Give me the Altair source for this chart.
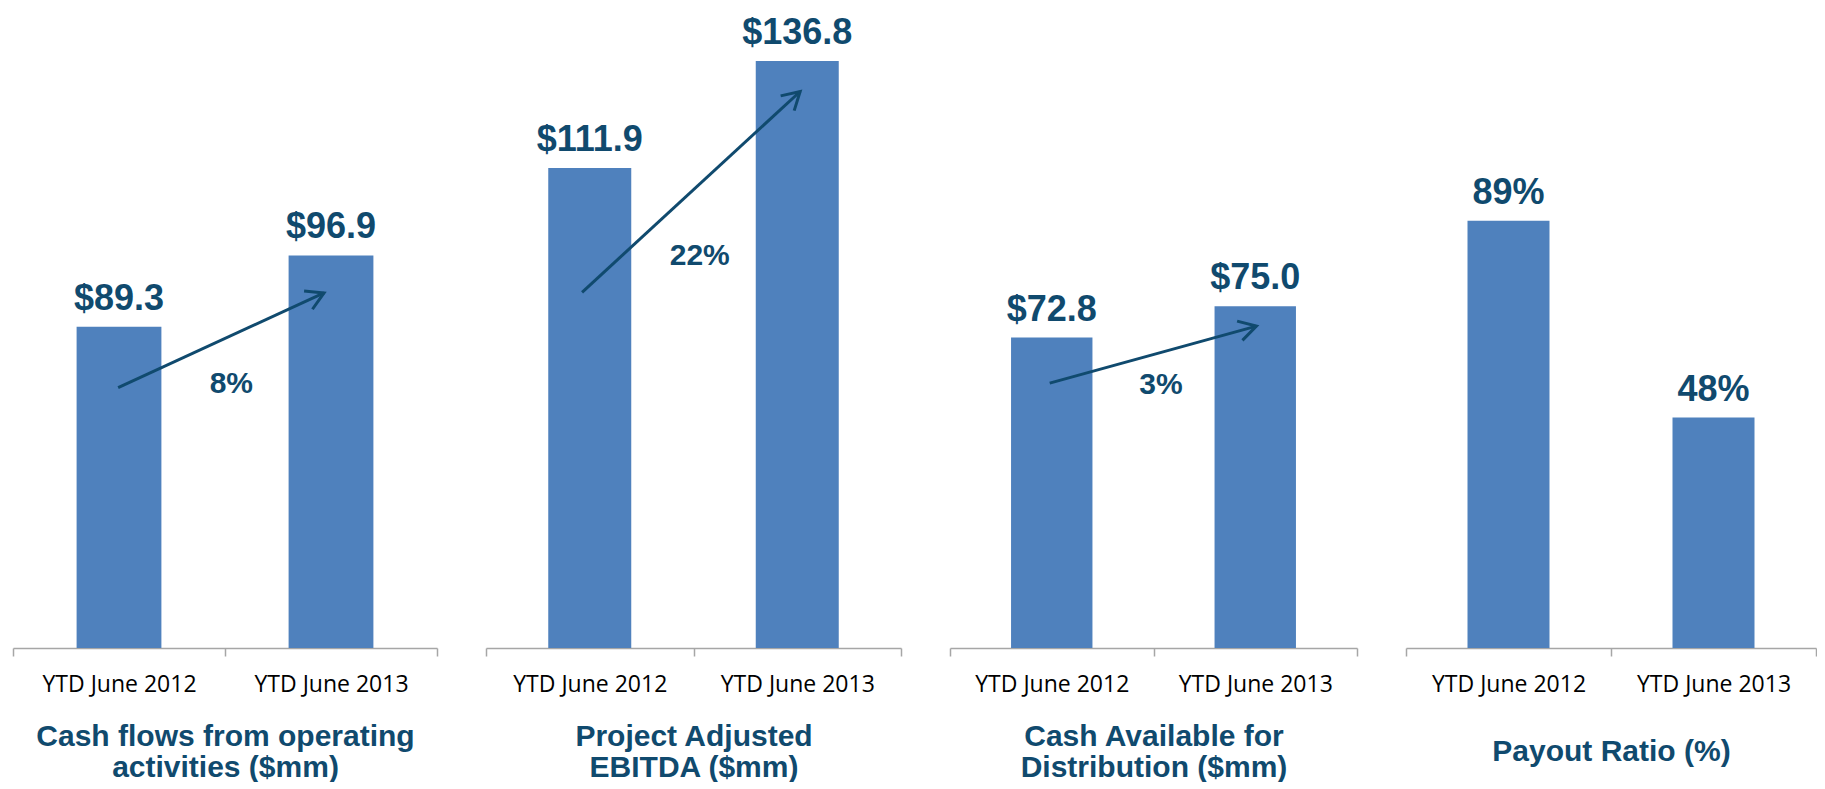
import math
import altair as alt
import pandas as pd

# ---------------- data ----------------
periods = ["YTD June 2012", "YTD June 2013"]
titles = [
    ["Cash flows from operating", "activities ($mm)"],
    ["Project Adjusted", "EBITDA ($mm)"],
    ["Cash Available for", "Distribution ($mm)"],
    ["Payout Ratio (%)"],
]
values = [[89.3, 96.9], [111.9, 136.8], [72.8, 75.0], [89, 48]]
value_labels = [["$89.3", "$96.9"], ["$111.9", "$136.8"], ["$72.8", "$75.0"], ["89%", "48%"]]
growth_labels = ["8%", "22%", "3%"]

# value-axis range of each panel (axis start / end)
axis_min = [55, 0, 51, 0]
axis_max = [123.1, 148.7, 95.8, 132.9]

# growth arrows: positions in category units (0..2) and value units
arrow_x0 = [0.496, 0.463, 0.490]
arrow_x1 = [1.467, 1.514, 1.506]
arrow_y0 = [82.8, 82.9, 69.6]
arrow_y1 = [92.9, 129.7, 73.6]
growth_x = [1.03, 1.03, 1.037]
growth_y = [83.2, 91.4, 69.5]

# ---------------- style ----------------
BAR = "#4F81BD"
DARK = "#104A6E"
AXIS_GRAY = "#A6A6A6"
BOLD_FONT = "Liberation Sans"
LABEL_FONT = "Open Sans"
WIDTHS = [424, 415, 407, 410]
H = 638
HEAD_PATH = "M-0.866,-0.5L0,0L-0.866,0.5"


def band_scale():
    return alt.Scale(paddingInner=0, paddingOuter=0)


def panel(i):
    w = WIDTHS[i]
    yscale = alt.Scale(domain=[axis_min[i], axis_max[i]], nice=False, zero=False)
    df = pd.DataFrame({"period": periods, "value": values[i], "label": value_labels[i]})
    base = alt.Chart(df)

    axis = alt.Axis(
        title=titles[i],
        titleFont=BOLD_FONT,
        titleFontSize=30,
        titleFontWeight="bold",
        titleColor=DARK,
        titleLineHeight=31,
        titlePadding=25 if i < 3 else 40,
        labelFont=LABEL_FONT,
        labelFontSize=23,
        labelColor="#000000",
        labelPadding=17,
        labelAngle=0,
        domainColor=AXIS_GRAY,
        domainWidth=1.5,
        tickColor=AXIS_GRAY,
        tickWidth=1.5,
        tickSize=8,
        tickBand="extent",
        grid=False,
    )

    bars = base.mark_bar(color=BAR, width=alt.RelativeBandSize(0.4)).encode(
        x=alt.X("period:N", sort=periods, scale=band_scale(), axis=axis),
        y=alt.Y("value:Q", scale=yscale, axis=None),
        y2=alt.datum(axis_min[i]),
    )
    labels = base.mark_text(
        font=BOLD_FONT, fontSize=36, fontWeight="bold", color=DARK,
        baseline="alphabetic", align="center", dy=-17,
    ).encode(
        x=alt.X("period:N", sort=periods, scale=band_scale(), axis=None),
        y=alt.Y("value:Q", scale=yscale, axis=None),
        text="label:N",
    )
    layers = [bars, labels]

    if i < 3:
        xlin = alt.Scale(domain=[0, 2], nice=False, zero=False)
        adf = pd.DataFrame({"pos": [arrow_x0[i], arrow_x1[i]], "v": [arrow_y0[i], arrow_y1[i]]})
        line = alt.Chart(adf).mark_line(color=DARK, strokeWidth=3).encode(
            x=alt.X("pos:Q", scale=xlin, axis=None),
            y=alt.Y("v:Q", scale=yscale, axis=None),
        )
        dx = (arrow_x1[i] - arrow_x0[i]) * w / 2
        dy = -(arrow_y1[i] - arrow_y0[i]) * H / (axis_max[i] - axis_min[i])
        ang = math.degrees(math.atan2(dy, dx)) % 360
        hdf = pd.DataFrame({"pos": [arrow_x1[i]], "v": [arrow_y1[i]]})
        head = alt.Chart(hdf).mark_point(
            shape=HEAD_PATH, size=1600, filled=False, color=DARK,
            strokeWidth=3, opacity=1, angle=ang,
        ).encode(
            x=alt.X("pos:Q", scale=xlin, axis=None),
            y=alt.Y("v:Q", scale=yscale, axis=None),
        )
        gdf = pd.DataFrame({"pos": [growth_x[i]], "v": [growth_y[i]], "t": [growth_labels[i]]})
        growth = alt.Chart(gdf).mark_text(
            font=BOLD_FONT, fontSize=30, fontWeight="bold", color=DARK,
            baseline="middle", align="center",
        ).encode(
            x=alt.X("pos:Q", scale=xlin, axis=None),
            y=alt.Y("v:Q", scale=yscale, axis=None),
            text="t:N",
        )
        layers += [line, head, growth]

    return alt.layer(*layers).resolve_scale(x="independent").properties(width=w, height=H)


chart = (
    alt.hconcat(*[panel(i) for i in range(4)], spacing=49, bounds="flush")
    .properties(padding={"left": 4, "top": 2, "right": 0, "bottom": 0}, background="white")
    .configure_view(stroke=None)
)

chart.save("out.html", embed_options={"renderer": "svg", "actions": False})
